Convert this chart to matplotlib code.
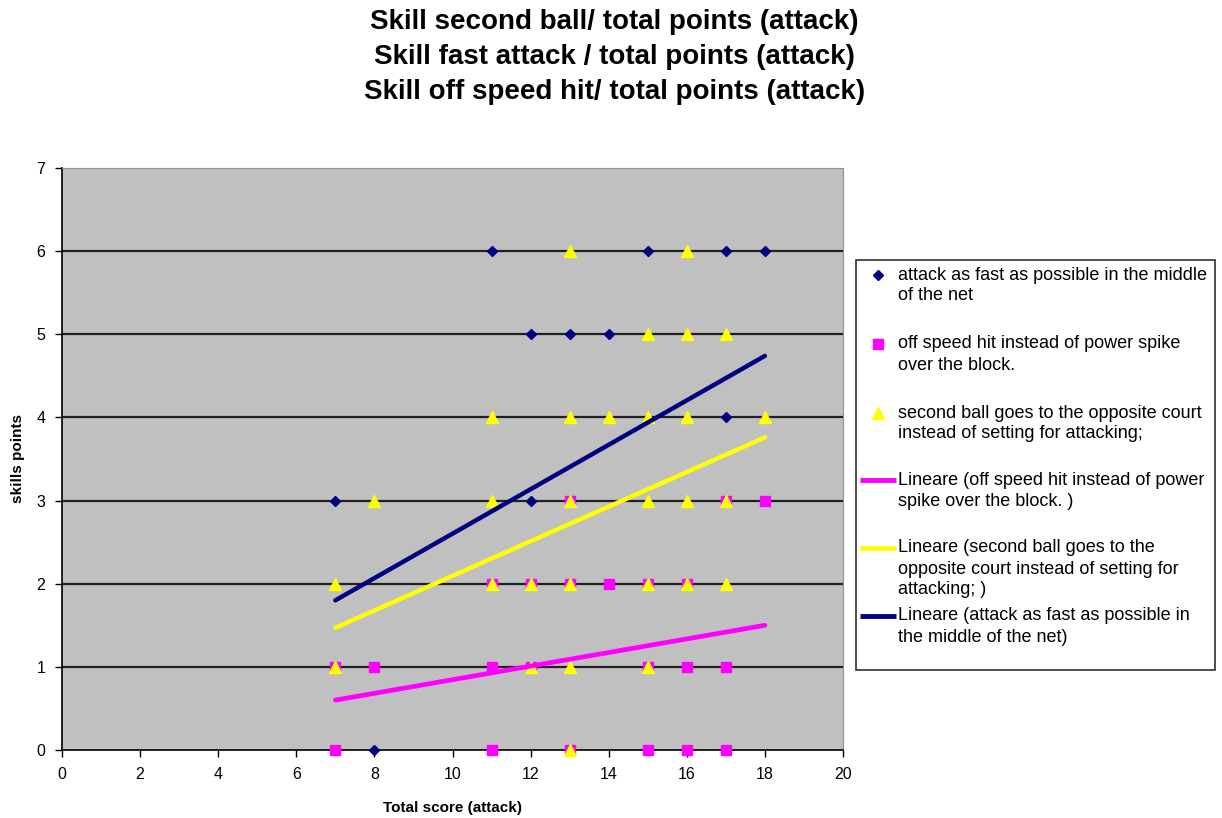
import matplotlib.pyplot as plt
from matplotlib.patches import Rectangle

plt.rcParams['font.family'] = ['Liberation Sans', 'DejaVu Sans']

# visible points
fast_x = [11, 15, 17, 18, 12, 13, 14, 17, 7, 12, 8]
fast_y = [6, 6, 6, 6, 5, 5, 5, 4, 3, 3, 0]

offspeed_x = [13, 17, 18, 11, 12, 13, 14, 15, 16, 7, 8, 11, 12, 15, 16, 17, 7, 11, 13, 15, 16, 17]
offspeed_y = [3, 3, 3, 2, 2, 2, 2, 2, 2, 1, 1, 1, 1, 1, 1, 1, 0, 0, 0, 0, 0, 0]

second_x = [13, 16, 15, 16, 17, 11, 13, 14, 15, 16, 18, 8, 11, 13, 15, 16, 17,
            7, 11, 12, 13, 15, 16, 17, 7, 12, 13, 15, 13]
second_y = [6, 6, 5, 5, 5, 4, 4, 4, 4, 4, 4, 3, 3, 3, 3, 3, 3,
            2, 2, 2, 2, 2, 2, 2, 1, 1, 1, 1, 0]

# linear trend lines (Excel "Lineare"), values at the ends
trend_x = [7, 18]
trend_fast = [1.80, 4.74]
trend_offspeed = [0.60, 1.50]
trend_second = [1.47, 3.76]

titles = ['Skill second ball/ total points (attack)',
          'Skill fast attack / total points (attack)',
          'Skill off speed hit/ total points (attack)']

NAVY = '#000080'
MAGENTA = '#FF00FF'
YELLOW = '#FFFF00'

W, H = 1222, 818
fig = plt.figure(figsize=(W / 100, H / 100), dpi=100)
ax = fig.add_axes([62 / W, 1 - 750 / H, 781 / W, 582 / H])
ax.set_facecolor('#C0C0C0')

for y in range(1, 7):
    ax.axhline(y, color='#202020', lw=1.6, zorder=1)

ax.plot(fast_x, fast_y, 'D', color=NAVY, ms=5.5, zorder=3, clip_on=False)
ax.plot(offspeed_x, offspeed_y, 's', color=MAGENTA, ms=7, mec=MAGENTA, zorder=3, clip_on=False)
ax.plot(second_x, second_y, '^', color=YELLOW, ms=8, mec=YELLOW, zorder=4, clip_on=False)

ax.plot(trend_x, trend_offspeed, color=MAGENTA, lw=3.4, solid_capstyle='round', zorder=5)
ax.plot(trend_x, trend_second, color=YELLOW, lw=3.2, solid_capstyle='round', zorder=5)
ax.plot(trend_x, trend_fast, color=NAVY, lw=3.2, solid_capstyle='round', zorder=5)

ax.set_xlim(0, 20)
ax.set_ylim(0, 7)
ax.set_xticks(range(0, 21, 2))
ax.set_yticks(range(0, 8))
ax.tick_params(direction='out', length=5, width=1, labelsize=11.5, pad=7)

ax.spines['top'].set_color('#909090')
ax.spines['right'].set_color('#909090')
ax.spines['left'].set_linewidth(1.2)
ax.spines['bottom'].set_linewidth(1.2)

ax.set_xlabel('Total score (attack)', fontsize=11, fontweight='bold', labelpad=14)
ax.set_ylabel('skills points', fontsize=11, fontweight='bold', labelpad=8)

for i, t in enumerate(titles):
    fig.text(0.503, 1 - (22 + 35 * i) / H, t, ha='center', va='center',
             fontsize=20, fontweight='bold')

# legend drawn by hand so each symbol sits on the first line of its text,
# as in the Excel legend; its axes works in pixel units
lax = fig.add_axes([856 / W, 1 - 670 / H, 359 / W, 410 / H])
lax.set_xlim(0, 359)
lax.set_ylim(410, 0)
lax.axis('off')
lax.add_patch(Rectangle((0, 0), 359, 410, fill=False, ec='#303030', lw=1.2, clip_on=False))

legend_items = [
    (dict(marker='D', color=NAVY, ms=5, ls='none'),
     ['attack as fast as possible in the middle', 'of the net']),
    (dict(marker='s', color=MAGENTA, ms=7, ls='none'),
     ['off speed hit instead of power spike', 'over the block.']),
    (dict(marker='^', color=YELLOW, ms=8, ls='none'),
     ['second ball goes to the opposite court', 'instead of setting for attacking;']),
    (dict(color=MAGENTA, lw=3.5),
     ['Lineare (off speed hit instead of power', 'spike over the block. )']),
    (dict(color=YELLOW, lw=3.5),
     ['Lineare (second ball goes to the', 'opposite court instead of setting for', 'attacking; )']),
    (dict(color=NAVY, lw=3.5),
     ['Lineare (attack as fast as possible in', 'the middle of the net)']),
]
entry_y = [15, 84, 153, 220, 288, 356]

for (style, lines), y0 in zip(legend_items, entry_y):
    if style.get('ls') == 'none':
        lax.plot([22], [y0], **style)
    else:
        lax.plot([4, 40], [y0, y0], solid_capstyle='butt', **style)
    for k, line in enumerate(lines):
        lax.text(42, y0 + 21 * k, line, ha='left', va='center', fontsize=13)

fig.savefig('out.png', dpi=100)
